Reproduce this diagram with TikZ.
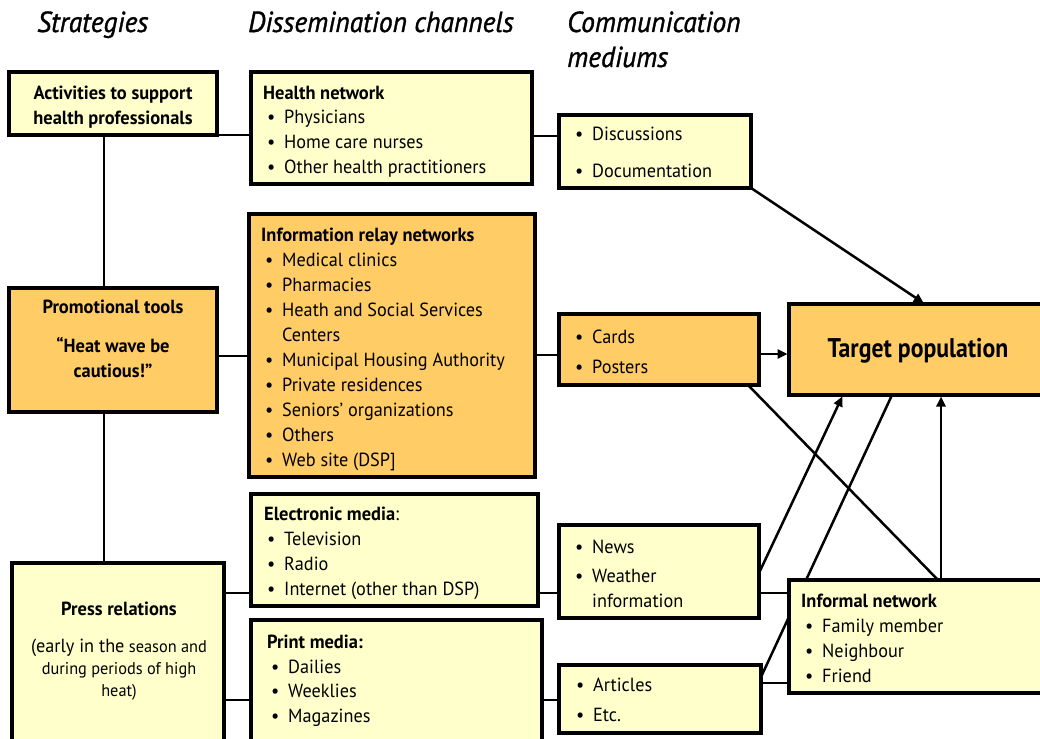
\documentclass[tikz,border=0pt]{standalone}
\usepackage{fontspec}
\setmainfont{PT Sans}[FakeStretch=0.96, BoldFeatures={FakeStretch=0.97}]
\newfontfamily\condfont{PT Sans}[FakeStretch=0.88]
\newfontfamily\hdrfont{PT Sans}[FakeStretch=0.95, ItalicFeatures={FakeBold=1.2, FakeStretch=0.95}]
\usetikzlibrary{arrows.meta}
\definecolor{ylw}{HTML}{FFFFCC}
\definecolor{org}{HTML}{FFCC66}
\pgfdeclarelayer{bg}
\pgfsetlayers{bg,main}
\newcommand\mybul{\makebox[17pt][l]{•}}
\newcommand\fbody{\fontsize{19}{23}\selectfont}
\begin{document}
\begin{tikzpicture}[x=1pt,y=-1pt,
  bx/.style={draw, line width=3.6pt, inner sep=0pt, outer sep=0pt, anchor=north west},
  ybx/.style={bx, fill=ylw}, obx/.style={bx, fill=org},
  txt/.style={anchor=base west, inner sep=0pt, font=\fbody},
  ttl/.style={txt, font=\fbody\bfseries},
  ctr/.style={anchor=base, inner sep=0pt, font=\fbody\bfseries},
  sml/.style={anchor=base, inner sep=0pt, font=\fontsize{17}{20}\selectfont},
  hdr/.style={anchor=base west, inner sep=0pt, font=\fontsize{29}{32}\hdrfont\itshape},
  ln/.style={line width=2.5pt},
  arr/.style={ln, -{Triangle[length=10pt,width=9pt]}, shorten >=1.5pt}]
\useasboundingbox (0,0) rectangle (1040,738);
% boxes
\node[ybx, minimum width=208pt, minimum height=63pt] (A) at (9,72) {};
\node[ybx, minimum width=281pt, minimum height=112pt] (HN) at (251,72) {};
\node[ybx, minimum width=192pt, minimum height=73pt] (D) at (559,115) {};
\node[obx, minimum width=286pt, minimum height=263pt] (IR) at (249,214) {};
\node[obx, minimum width=208pt, minimum height=124pt] (PT) at (9,288) {};
\node[obx, minimum width=200pt, minimum height=71pt] (C) at (559,314) {};
\node[obx, minimum width=260pt, minimum height=91pt] (T) at (789,304) {};
\node[ybx, minimum width=287pt, minimum height=112pt] (EM) at (251,494) {};
\node[ybx, minimum width=291pt, minimum height=130pt] (PM) at (251,620) {};
\node[ybx, minimum width=212pt, minimum height=190pt] (PR) at (12,563) {};
\node[ybx, minimum width=200pt, minimum height=93pt] (N) at (559,525) {};
\node[ybx, minimum width=260pt, minimum height=113pt] (IN) at (789,580) {};
\node[ybx, minimum width=202pt, minimum height=68pt] (AR) at (559,665) {};
% helper coordinates
\coordinate (vx) at (104,0);
\coordinate (y1) at (0,135);
\coordinate (y2) at (0,136);
\coordinate (y3) at (0,356);
\coordinate (y4) at (0,355);
\coordinate (y5) at (0,354);
\coordinate (y6) at (0,593);
\coordinate (y7) at (0,700);
\coordinate (y8) at (0,683);
\coordinate (y9) at (0,573);
\coordinate (y10) at (0,677);
\coordinate (x1) at (925,0);
\coordinate (x2) at (748,0);
\coordinate (x3) at (938,0);
\coordinate (x4) at (843,0);
\coordinate (x5) at (892,0);
\coordinate (x6) at (941,0);
\begin{pgfonlayer}{bg}
\draw[ln] (A.south -| vx) -- (PT.north -| vx);
\draw[ln] (PT.south -| vx) -- (PR.north -| vx);
\draw[ln] (A.east |- y1) -- (HN.west |- y1);
\draw[ln] (HN.east |- y2) -- (D.west |- y2);
\draw[ln] (PT.east |- y3) -- (IR.west |- y3);
\draw[ln] (IR.east |- y4) -- (C.west |- y4);
\draw[arr] (C.east |- y5) -- (T.west |- y5);
\draw[ln] (PR.east |- y6) -- (EM.west |- y6);
\draw[ln] (EM.east |- y6) -- (N.west |- y6);
\draw[ln] (N.east |- y6) -- (IN.west |- y6);
\draw[ln] (PR.east |- y7) -- (PM.west |- y7);
\draw[ln] (PM.east |- y7) -- (AR.west |- y7);
\draw[ln] (AR.east |- y8) -- (IN.west |- y8);
\draw[arr] (D.south east) -- (T.north -| x1);
\draw[ln] (C.south -| x2) -- (IN.north -| x3);
\draw[arr] (N.east |- y9) -- (T.south -| x4);
\draw[ln] (AR.east |- y10) -- (T.south -| x5);
\draw[arr] (IN.north -| x6) -- (T.south -| x6);
\end{pgfonlayer}
% headers
\node[hdr] (h1t) at (37,32) {Strategies};
\node[hdr] (h2t) at (248,32) {Dissemination channels};
\node[hdr] (h3t) at (567,32) {Communication};
\node[hdr] (h4t) at (567,67) {mediums};
% activities
\node[ctr] (a1) at (113,100) {Activities to support};
\node[ctr] (a2) at (113,125) {health professionals};
% health network
\node[ttl] (hn1) at (263,100) {Health network};
\node[txt] (hn2) at (267,124) {\mybul Physicians};
\node[txt] (hn3) at (267,149) {\mybul Home care nurses};
\node[txt] (hn4) at (267,174) {\mybul Other health practitioners};
% discussions
\node[txt] (d1) at (575,141) {\mybul Discussions};
\node[txt] (d2) at (575,178) {\mybul Documentation};
% info relay
\node[ttl] (ir1) at (261,241) {Information relay networks};
\node[txt] (ir2) at (265,266) {\mybul Medical clinics};
\node[txt] (ir3) at (265,291) {\mybul Pharmacies};
\node[txt] (ir4) at (265,316) {\mybul Heath and Social Services};
\node[txt] (ir5) at (282,341) {Centers};
\node[txt] (ir6) at (265,366) {\mybul Municipal Housing Authority};
\node[txt] (ir7) at (265,391) {\mybul Private residences};
\node[txt] (ir8) at (265,416) {\mybul Seniors’ organizations};
\node[txt] (ir9) at (265,441) {\mybul Others};
\node[txt] (ir10) at (265,466) {\mybul Web site (DSP]};
% promotional
\node[ctr] (p1) at (113,313) {Promotional tools};
\node[ctr] (p2) at (113,352) {“Heat wave be};
\node[ctr] (p3) at (113,377) {cautious!”};
% cards
\node[txt] (c1) at (575,343) {\mybul Cards};
\node[txt] (c2) at (575,373) {\mybul Posters};
% target
\node[anchor=base, inner sep=0pt, font=\fontsize{27}{30}\condfont\bfseries] (t1) at (918,357) {Target population};
% electronic media
\node[txt] (e1) at (264,520) {\textbf{Electronic media}:};
\node[txt] (e2) at (267,545) {\mybul Television};
\node[txt] (e3) at (267,570) {\mybul Radio};
\node[txt] (e4) at (267,595) {\mybul Internet (other than DSP)};
% news
\node[txt] (n1) at (575,553) {\mybul News};
\node[txt] (n2) at (575,582) {\mybul Weather};
\node[txt] (n3) at (592,607) {information};
% informal
\node[ttl] (i1) at (801,607) {Informal network};
\node[txt] (i2) at (805,632) {\mybul Family member};
\node[txt] (i3) at (805,657) {\mybul Neighbour};
\node[txt] (i4) at (805,682) {\mybul Friend};
% print media
\node[ttl] (m1) at (267,648) {Print media:};
\node[txt] (m2) at (271,673) {\mybul Dailies};
\node[txt] (m3) at (271,697) {\mybul Weeklies};
\node[txt] (m4) at (271,722) {\mybul Magazines};
% articles
\node[txt] (r1) at (576,691) {\mybul Articles};
\node[txt] (r2) at (576,721) {\mybul Etc.};
% press relations
\node[ctr] (s1) at (119,615) {Press relations};
\node[sml] (s2) at (119,652) {{\fontsize{19}{22}\selectfont (early in the} season and};
\node[sml] (s3) at (119,674) {during periods of high};
\node[sml] (s4) at (119,696) {heat)};
\end{tikzpicture}
\end{document}
